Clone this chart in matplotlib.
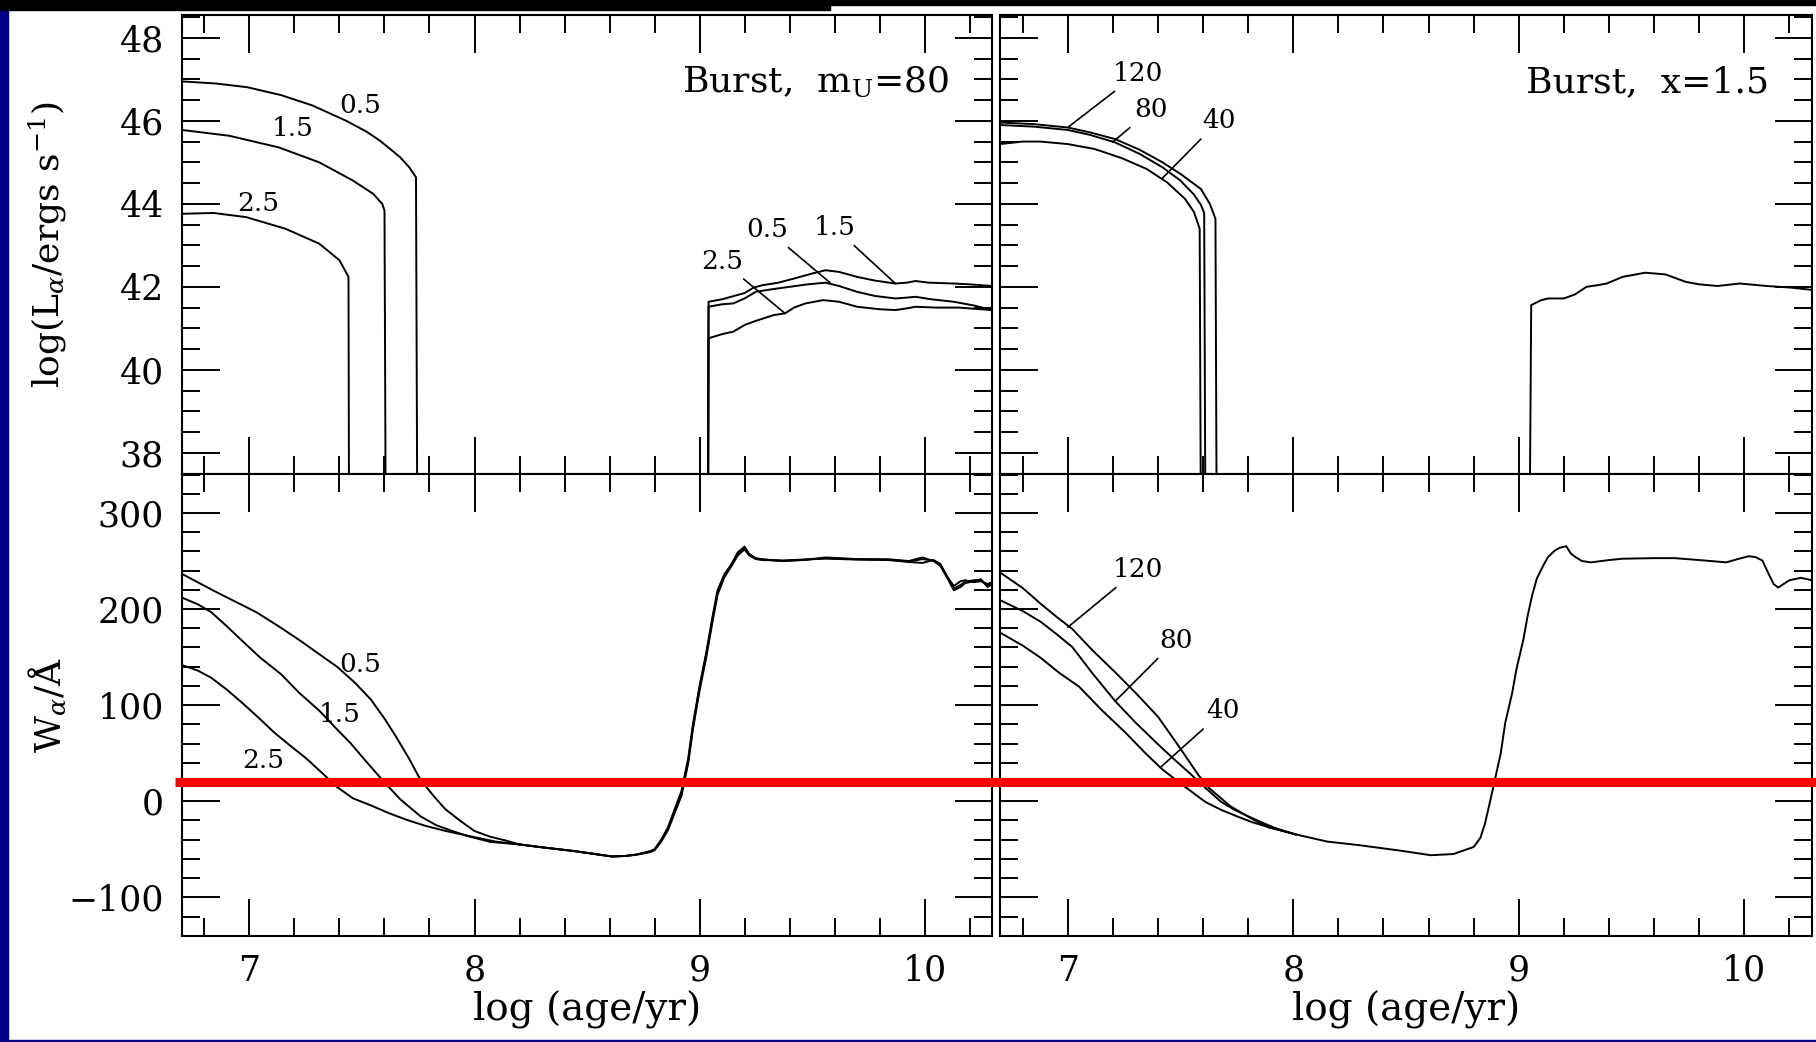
import numpy as np
import matplotlib
matplotlib.use('Agg')
import matplotlib.pyplot as plt
from matplotlib.patches import Rectangle
from matplotlib.lines import Line2D
from matplotlib.ticker import MultipleLocator
from matplotlib.transforms import blended_transform_factory

plt.rcParams['font.family'] = ['DejaVu Serif']
plt.rcParams['mathtext.fontset'] = 'dejavuserif'

# log L(H-alpha) below the plotted range (no ionising stars left)
FLOOR = 30.0
# equivalent width threshold marked in red
W_CUT = 20.0

# ---- top left: burst, m_U = 80, IMF slope x = 0.5 / 1.5 / 2.5 ----
age_L05_young = [6.70, 6.85, 6.99, 7.14, 7.28, 7.43, 7.52, 7.58, 7.63, 7.67, 7.71, 7.74, 7.75]
logL_05_young = [46.95, 46.90, 46.81, 46.62, 46.37, 46.00, 45.74, 45.52, 45.30, 45.12, 44.88,
                 44.64, FLOOR]
age_L15_young = [6.70, 6.91, 7.13, 7.31, 7.46, 7.55, 7.59, 7.60, 7.61]
logL_15_young = [45.78, 45.64, 45.36, 45.00, 44.56, 44.24, 44.00, 43.84, FLOOR]
age_L25_young = [6.70, 6.84, 6.985, 7.16, 7.31, 7.40, 7.44, 7.445]
logL_25_young = [43.76, 43.78, 43.68, 43.40, 43.04, 42.64, 42.24, FLOOR]

age_L05_old = [9.035, 9.04, 9.10, 9.15, 9.20, 9.25, 9.32, 9.40, 9.48, 9.56, 9.62, 9.70, 9.78,
               9.87, 9.92, 9.96, 10.03, 10.13, 10.22, 10.30]
logL_05_old = [FLOOR, 41.52, 41.58, 41.60, 41.72, 41.88, 41.94, 42.00, 42.06, 42.10, 42.02, 41.88,
               41.78, 41.72, 41.74, 41.76, 41.70, 41.64, 41.55, 41.44]
age_L15_old = [9.035, 9.04, 9.10, 9.14, 9.20, 9.24, 9.28, 9.35, 9.42, 9.50, 9.56, 9.62, 9.70,
               9.78, 9.87, 9.92, 9.96, 10.02, 10.13, 10.20, 10.30]
logL_15_old = [FLOOR, 41.64, 41.70, 41.76, 41.85, 41.98, 42.04, 42.10, 42.20, 42.32, 42.40, 42.36,
               42.24, 42.15, 42.08, 42.10, 42.14, 42.10, 42.08, 42.06, 42.02]
age_L25_old = [9.035, 9.04, 9.10, 9.15, 9.20, 9.25, 9.33, 9.38, 9.42, 9.47, 9.55, 9.62, 9.70,
               9.80, 9.87, 9.92, 9.96, 10.05, 10.15, 10.30]
logL_25_old = [FLOOR, 40.76, 40.86, 40.92, 41.08, 41.18, 41.32, 41.36, 41.50, 41.60, 41.68, 41.64,
               41.52, 41.46, 41.44, 41.48, 41.52, 41.50, 41.50, 41.44]

# ---- top right: burst, x = 1.5, m_U = 120 / 80 / 40 ----
age_L120_young = [6.70, 6.85, 7.00, 7.10, 7.21, 7.32, 7.42, 7.50, 7.59, 7.63, 7.655, 7.665]
logL_120_young = [45.96, 45.92, 45.84, 45.72, 45.56, 45.30, 45.00, 44.72, 44.36, 44.00, 43.64, FLOOR]
age_L80_young = [6.70, 6.85, 7.00, 7.10, 7.21, 7.32, 7.42, 7.50, 7.56, 7.59, 7.605, 7.615]
logL_80_young = [45.90, 45.86, 45.78, 45.66, 45.48, 45.20, 44.88, 44.56, 44.22, 43.98, 43.78, FLOOR]
age_L40_young = [6.70, 6.80, 6.88, 7.00, 7.12, 7.24, 7.35, 7.44, 7.52, 7.56, 7.585, 7.595]
logL_40_young = [45.44, 45.50, 45.50, 45.44, 45.32, 45.10, 44.84, 44.52, 44.12, 43.80, 43.40, FLOOR]
age_Lx15_old = [9.04, 9.055, 9.10, 9.13, 9.20, 9.25, 9.30, 9.35, 9.39, 9.46, 9.56, 9.65, 9.74,
                9.80, 9.88, 9.98, 10.10, 10.21, 10.31]
logL_x15_old = [FLOOR, 41.56, 41.68, 41.72, 41.72, 41.82, 42.00, 42.04, 42.08, 42.24, 42.34, 42.30,
                42.12, 42.06, 42.02, 42.08, 42.02, 41.98, 41.92]

# ---- bottom left: W(H-alpha), m_U = 80 ----
age_W05_young = [6.70, 6.85, 7.03, 7.13, 7.23, 7.31, 7.39, 7.47, 7.54, 7.60, 7.65, 7.71, 7.76,
                 7.82, 7.87, 7.94, 8.00, 8.07, 8.13]
W_05_young = [236.6, 218.0, 196.8, 182.0, 166.4, 153.0, 139.8, 123.0, 105.7, 86.0, 67.7, 44.0, 22.2,
              5.0, -8.2, -21.0, -31.0, -37.0, -40.4]
age_W15_young = [6.70, 6.77, 6.83, 6.90, 6.97, 7.05, 7.14, 7.22, 7.31, 7.38, 7.45, 7.52, 7.59,
                 7.67, 7.76, 7.83, 7.90, 7.98, 8.07]
W_15_young = [211.9, 205.0, 196.8, 182.0, 166.4, 149.0, 132.3, 113.0, 94.3, 77.0, 60.2, 41.0, 22.2,
              2.0, -15.7, -25.0, -30.9, -37.0, -42.3]
age_W25_young = [6.70, 6.77, 6.83, 6.90, 6.97, 7.04, 7.11, 7.18, 7.25, 7.32, 7.39, 7.46, 7.54,
                 7.62, 7.70, 7.78, 7.87, 7.98, 8.10]
W_25_young = [141.7, 136.0, 128.5, 116.0, 101.9, 87.0, 71.5, 58.0, 45.0, 30.0, 14.6, 3.0, -4.4,
              -12.5, -19.5, -25.5, -30.9, -36.5, -42.3]
age_W_old = [8.20, 8.30, 8.44, 8.55, 8.61, 8.67, 8.72, 8.78, 8.80, 8.83, 8.86, 8.89, 8.92, 8.95,
             8.97, 9.00, 9.03, 9.06, 9.08, 9.11, 9.14, 9.17, 9.20, 9.22, 9.25, 9.28, 9.37, 9.46,
             9.56, 9.70, 9.84, 9.93, 9.99, 10.04, 10.07, 10.10, 10.13, 10.16, 10.18, 10.22, 10.25,
             10.28, 10.30]
W_05_old = [-45.0, -48.0, -51.8, -55.5, -57.5, -57.0, -55.6, -52.0, -50.0, -40.0, -27.0, -8.0,
            10.8, 45.0, 79.0, 120.0, 155.0, 195.0, 219.5, 236.0, 246.0, 259.0, 265.0, 257.5, 253.0,
            251.8, 250.0, 251.0, 253.7, 252.0, 251.8, 250.0, 253.7, 250.0, 245.0, 232.8, 219.5,
            223.0, 227.0, 229.0, 231.0, 223.0, 226.0]
W_15_old = [-45.0, -48.0, -51.8, -55.5, -57.5, -57.0, -55.6, -53.0, -51.0, -42.0, -30.0, -12.0,
            6.0, 40.0, 74.0, 115.0, 150.0, 190.0, 215.0, 233.0, 244.0, 256.0, 262.0, 256.0, 252.0,
            251.0, 250.5, 251.5, 252.5, 251.5, 251.0, 249.0, 248.0, 251.0, 247.0, 234.0, 224.0,
            229.0, 230.0, 228.0, 229.0, 226.0, 228.0]
W_25_old = [-45.0, -48.0, -51.8, -55.5, -57.5, -57.0, -55.6, -52.5, -50.5, -41.0, -28.5, -10.0,
            8.5, 42.5, 76.5, 117.5, 152.5, 192.5, 217.0, 234.5, 245.0, 257.5, 263.5, 256.5, 252.5,
            251.5, 250.2, 251.2, 253.0, 251.8, 251.4, 249.5, 252.0, 250.5, 246.0, 233.5, 221.5,
            225.0, 228.5, 230.0, 230.5, 224.0, 227.0]

# ---- bottom right: W(H-alpha), x = 1.5 ----
age_W120_young = [6.70, 6.80, 6.88, 6.95, 7.02, 7.11, 7.21, 7.30, 7.40, 7.49, 7.58, 7.63, 7.68,
                  7.72, 7.77, 7.83, 7.89]
W_120_young = [238.0, 222.0, 205.5, 192.0, 179.3, 157.0, 134.3, 113.0, 88.0, 58.0, 27.0, 13.0, 3.0,
               -5.0, -12.0, -20.0, -27.0]
age_W80_young = [6.70, 6.80, 6.88, 6.95, 7.02, 7.11, 7.21, 7.30, 7.40, 7.47, 7.54, 7.61, 7.68,
                 7.74, 7.80, 7.86, 7.92]
W_80_young = [209.3, 198.0, 186.8, 174.0, 160.5, 133.0, 104.3, 82.0, 59.3, 44.0, 29.3, 14.0, -0.7,
              -9.0, -15.7, -22.0, -28.0]
age_W40_young = [6.70, 6.80, 6.88, 6.96, 7.05, 7.15, 7.26, 7.34, 7.42, 7.52, 7.61, 7.68, 7.75,
                 7.82, 7.89]
W_40_young = [175.5, 162.0, 149.3, 134.0, 119.3, 95.0, 70.5, 51.0, 33.0, 15.0, -0.7, -9.0, -15.7,
              -22.0, -27.0]
age_Wx15_old = [8.01, 8.15, 8.29, 8.47, 8.61, 8.71, 8.80, 8.83, 8.85, 8.87, 8.89, 8.92, 8.94, 8.97,
                8.99, 9.02, 9.04, 9.06, 9.08, 9.11, 9.13, 9.16, 9.18, 9.21, 9.23, 9.25, 9.28, 9.32,
                9.40, 9.46, 9.60, 9.69, 9.80, 9.92, 9.97, 10.02, 10.05, 10.08, 10.11, 10.13, 10.15,
                10.18, 10.20, 10.25, 10.30]
W_x15_old = [-34.5, -42.0, -45.7, -51.3, -56.2, -55.0, -47.6, -38.0, -23.2, -3.0, 18.0, 50.0, 81.8,
             112.0, 138.0, 168.0, 194.0, 215.0, 231.8, 246.0, 254.3, 261.0, 263.6, 265.5, 258.0,
             254.3, 250.0, 248.6, 251.0, 252.4, 253.0, 253.0, 251.0, 248.6, 252.0, 255.0, 254.0,
             250.5, 235.5, 226.0, 222.4, 227.0, 230.0, 232.5, 230.0]

LW = 1.4
TICK_FS = 25
LABEL_FS = 28
NOTE_FS = 26
CURVE_FS = 19

fig = plt.figure(figsize=(18.16, 10.42), dpi=100, facecolor='white')

# slide background around the scanned figure
fig.add_artist(Rectangle((0, 0), 8 / 1816, 1, transform=fig.transFigure, color='#000085', zorder=0))
fig.add_artist(Rectangle((0, 1 - 5 / 1042), 1, 5 / 1042, transform=fig.transFigure, color='black', zorder=0))
fig.add_artist(Rectangle((0, 1 - 10 / 1042), 830 / 1816, 10 / 1042, transform=fig.transFigure,
                         color='black', zorder=0))
fig.add_artist(Rectangle((0, 0), 1, 2 / 1042, transform=fig.transFigure, color='#000085', zorder=0))

ax_tl = fig.add_axes([0.1002, 0.5455, 0.4461, 0.4401])
ax_bl = fig.add_axes([0.1002, 0.1020, 0.4461, 0.4435])
ax_tr = fig.add_axes([0.5507, 0.5455, 0.4471, 0.4401])
ax_br = fig.add_axes([0.5507, 0.1020, 0.4471, 0.4435])


def style(ax, ylim, ymaj, ymin):
    ax.set_xlim(6.7, 10.3)
    ax.set_ylim(*ylim)
    ax.xaxis.set_major_locator(MultipleLocator(1))
    ax.xaxis.set_minor_locator(MultipleLocator(0.2))
    ax.yaxis.set_major_locator(MultipleLocator(ymaj))
    ax.yaxis.set_minor_locator(MultipleLocator(ymin))
    ax.tick_params(which='both', direction='in', top=True, right=True, width=1.4,
                   labelsize=TICK_FS, pad=13)
    ax.tick_params(which='major', length=27)
    ax.tick_params(which='minor', length=13)
    for s in ax.spines.values():
        s.set_linewidth(1.5)


for ax in (ax_tl, ax_tr):
    style(ax, (37.5, 48.55), 2, 0.5)
    ax.tick_params(labelbottom=False)
for ax in (ax_bl, ax_br):
    style(ax, (-140, 341), 100, 20)
    ax.set_xlabel('log (age/yr)', fontsize=LABEL_FS, labelpad=2)
for ax in (ax_tr, ax_br):
    ax.tick_params(labelleft=False)

ax_tl.set_ylabel(r'log(L$_\alpha$/ergs s$^{-1}$)', fontsize=LABEL_FS - 2, va='center')
ax_tl.yaxis.set_label_coords(-0.166, 0.5)
ax_bl.set_ylabel(r'W$_\alpha$/Å', fontsize=LABEL_FS - 2, va='center')
ax_bl.yaxis.set_label_coords(-0.166, 0.5)

# top left
for a, v in [(age_L05_young, logL_05_young), (age_L15_young, logL_15_young),
             (age_L25_young, logL_25_young), (age_L05_old, logL_05_old),
             (age_L15_old, logL_15_old), (age_L25_old, logL_25_old)]:
    ax_tl.plot(a, v, color='black', lw=LW)
ax_tl.text(10.11, 46.94, r'Burst,  m$_\mathrm{U}$=80', fontsize=NOTE_FS, ha='right', va='center')
ax_tl.text(7.49, 46.37, '0.5', fontsize=CURVE_FS, ha='center', va='center')
ax_tl.text(7.19, 45.81, '1.5', fontsize=CURVE_FS, ha='center', va='center')
ax_tl.text(7.04, 44.00, '2.5', fontsize=CURVE_FS, ha='center', va='center')
lead = dict(arrowstyle='-', color='black', lw=1.2, shrinkA=3, shrinkB=0)
ax_tl.annotate('0.5', xy=(9.58, 42.10), xytext=(9.30, 43.38), fontsize=CURVE_FS, ha='center',
               va='center', arrowprops=lead)
ax_tl.annotate('1.5', xy=(9.87, 42.08), xytext=(9.60, 43.43), fontsize=CURVE_FS, ha='center',
               va='center', arrowprops=lead)
ax_tl.annotate('2.5', xy=(9.38, 41.36), xytext=(9.10, 42.62), fontsize=CURVE_FS, ha='center',
               va='center', arrowprops=lead)

# top right
for a, v in [(age_L120_young, logL_120_young), (age_L80_young, logL_80_young),
             (age_L40_young, logL_40_young), (age_Lx15_old, logL_x15_old)]:
    ax_tr.plot(a, v, color='black', lw=LW)
ax_tr.text(10.11, 46.94, 'Burst,  x=1.5', fontsize=NOTE_FS, ha='right', va='center')
ax_tr.annotate('120', xy=(7.00, 45.84), xytext=(7.31, 47.14), fontsize=CURVE_FS, ha='center',
               va='center', arrowprops=lead)
ax_tr.annotate('80', xy=(7.20, 45.49), xytext=(7.37, 46.27), fontsize=CURVE_FS, ha='center',
               va='center', arrowprops=lead)
ax_tr.annotate('40', xy=(7.42, 44.62), xytext=(7.67, 46.00), fontsize=CURVE_FS, ha='center',
               va='center', arrowprops=lead)

# bottom left
for a, v in [(age_W05_young, W_05_young), (age_W15_young, W_15_young),
             (age_W25_young, W_25_young), (age_W_old, W_05_old), (age_W_old, W_15_old),
             (age_W_old, W_25_old)]:
    ax_bl.plot(a, v, color='black', lw=LW)
for a, v, o in [(age_W05_young, W_05_young, W_05_old), (age_W15_young, W_15_young, W_15_old),
                (age_W25_young, W_25_young, W_25_old)]:
    ax_bl.plot([a[-1], age_W_old[0]], [v[-1], o[0]], color='black', lw=LW)
ax_bl.text(7.49, 142, '0.5', fontsize=CURVE_FS, ha='center', va='center')
ax_bl.text(7.40, 90, '1.5', fontsize=CURVE_FS, ha='center', va='center')
ax_bl.text(7.06, 42, '2.5', fontsize=CURVE_FS, ha='center', va='center')

# bottom right
for a, v in [(age_W120_young, W_120_young), (age_W80_young, W_80_young),
             (age_W40_young, W_40_young), (age_Wx15_old, W_x15_old)]:
    ax_br.plot(a, v, color='black', lw=LW)
for a, v in [(age_W120_young, W_120_young), (age_W80_young, W_80_young), (age_W40_young, W_40_young)]:
    ax_br.plot([a[-1], age_Wx15_old[0]], [v[-1], W_x15_old[0]], color='black', lw=LW)
ax_br.annotate('120', xy=(7.00, 181), xytext=(7.31, 241), fontsize=CURVE_FS, ha='center',
               va='center', arrowprops=lead)
ax_br.annotate('80', xy=(7.21, 104), xytext=(7.48, 167.5), fontsize=CURVE_FS, ha='center',
               va='center', arrowprops=lead)
ax_br.annotate('40', xy=(7.41, 35), xytext=(7.69, 94), fontsize=CURVE_FS, ha='center',
               va='center', arrowprops=lead)

# red threshold line across both W panels
trans = blended_transform_factory(fig.transFigure, ax_bl.transData)
fig.add_artist(Line2D([175 / 1816, 1.0], [W_CUT, W_CUT], transform=trans, color='#ff0000',
                      lw=6.5, solid_capstyle='butt', zorder=10))

fig.savefig('out.png', dpi=100, facecolor=fig.get_facecolor())
